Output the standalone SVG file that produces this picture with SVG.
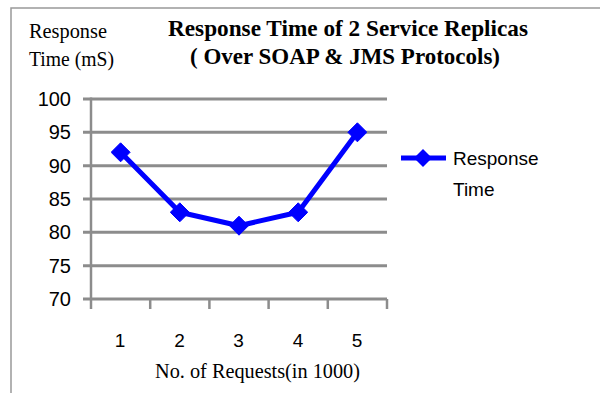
<svg xmlns="http://www.w3.org/2000/svg" width="600" height="393" viewBox="0 0 600 393">
<style>
.grid{stroke:#8c8c8c;stroke-width:3;fill:none}
.tick{stroke:#8c8c8c;stroke-width:2.5;fill:none}
.ylab{font-family:"Liberation Sans",Arial,sans-serif;font-size:20px;fill:#000;text-anchor:end}
.xlab{font-family:"Liberation Sans",Arial,sans-serif;font-size:19px;fill:#000;text-anchor:middle}
.serif{font-family:"Liberation Serif","Times New Roman",serif;font-size:22px;fill:#000}
.title{font-family:"Liberation Serif","Times New Roman",serif;font-size:23px;font-weight:bold;fill:#000}
.series{stroke:#0000ff;stroke-width:5;fill:none;stroke-linejoin:round}
.leg{font-family:"Liberation Sans",Arial,sans-serif;font-size:19px;fill:#000}
</style>
<defs>
<marker id="dia" viewBox="-10 -10 20 20" markerWidth="20" markerHeight="20" markerUnits="userSpaceOnUse" refX="0" refY="0">
<path d="M0,-9.5 L9.5,0 L0,9.5 L-9.5,0 Z" fill="#0000ff" stroke="#0000ff" stroke-width="1" stroke-linejoin="round"/>
</marker>
</defs>
<rect x="11" y="8" width="600" height="400" fill="#fff" stroke="#999" stroke-width="1.5"/>
<g id="titles">
<text class="title" x="168" y="36" textLength="360" lengthAdjust="spacingAndGlyphs">Response Time  of 2 Service Replicas</text>
<text class="title" x="190" y="64" textLength="310" lengthAdjust="spacingAndGlyphs">( Over SOAP  &amp; JMS Protocols)</text>
<text class="serif" x="29" y="38" textLength="78" lengthAdjust="spacingAndGlyphs">Response</text>
<text class="serif" x="29" y="66" textLength="85" lengthAdjust="spacingAndGlyphs">Time (mS)</text>
<text class="serif" x="155" y="378" textLength="205" lengthAdjust="spacingAndGlyphs">No. of Requests(in 1000)</text>
</g>
<g id="grid">
<line class="grid" x1="83" y1="99" x2="387" y2="99"/>
<line class="grid" x1="83" y1="132.3" x2="387" y2="132.3"/>
<line class="grid" x1="83" y1="165.7" x2="387" y2="165.7"/>
<line class="grid" x1="83" y1="199" x2="387" y2="199"/>
<line class="grid" x1="83" y1="232.3" x2="387" y2="232.3"/>
<line class="grid" x1="83" y1="265.7" x2="387" y2="265.7"/>
<line class="grid" x1="83" y1="299" x2="387" y2="299"/>
<line class="tick" x1="91" y1="97.5" x2="91" y2="309"/>
<line class="tick" x1="150.2" y1="299" x2="150.2" y2="309"/>
<line class="tick" x1="209.4" y1="299" x2="209.4" y2="309"/>
<line class="tick" x1="268.6" y1="299" x2="268.6" y2="309"/>
<line class="tick" x1="327.8" y1="299" x2="327.8" y2="309"/>
<line class="tick" x1="387" y1="299" x2="387" y2="309"/>
</g>
<g id="yaxis">
<text class="ylab" x="71" y="106">100</text>
<text class="ylab" x="71" y="139.3">95</text>
<text class="ylab" x="71" y="172.7">90</text>
<text class="ylab" x="71" y="206">85</text>
<text class="ylab" x="71" y="239.3">80</text>
<text class="ylab" x="71" y="272.7">75</text>
<text class="ylab" x="71" y="306">70</text>
</g>
<g id="xaxis">
<text class="xlab" x="120" y="347">1</text>
<text class="xlab" x="179.5" y="347">2</text>
<text class="xlab" x="238.5" y="347">3</text>
<text class="xlab" x="298" y="347">4</text>
<text class="xlab" x="357" y="347">5</text>
</g>
<g id="connectors">
<polyline class="series" points="120.6,152.3 179.8,212.3 239,225.7 298.2,212.3 357.4,132.3" marker-start="url(#dia)" marker-mid="url(#dia)" marker-end="url(#dia)"/>
</g>
<g id="legend">
<line x1="401" y1="158" x2="446" y2="158" stroke="#0000ff" stroke-width="5"/>
<path d="M423,149 L432,158 L423,167 L414,158 Z" fill="#0000ff"/>
<text class="leg" x="453" y="165">Response</text>
<text class="leg" x="453" y="196">Time</text>
</g>
</svg>
